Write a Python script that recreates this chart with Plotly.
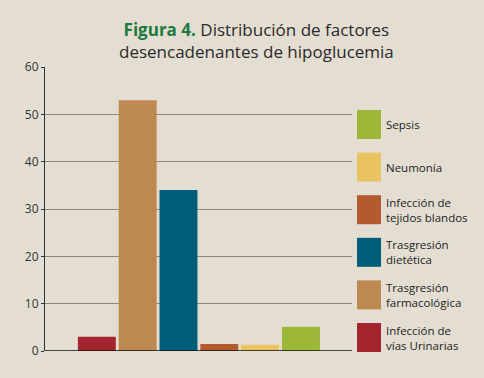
import plotly.graph_objects as go

categories = ["Infección de vías Urinarias", "Trasgresión farmacológica", "Trasgresión dietética",
              "Infección de tejidos blandos", "Neumonía", "Sepsis"]
legend_labels = ["Infección de<br>vías Urinarias", "Trasgresión<br>farmacológica", "Trasgresión<br>dietética",
                 "Infección de<br>tejidos blandos", "Neumonía", "Sepsis"]
values = [3, 53, 34, 1.5, 1.3, 5.1]
colors = ["#A3262F", "#BE8851", "#005E7B", "#B45A2F", "#E9C361", "#9DB739"]
y_ticks = [0, 10, 20, 30, 40, 50, 60]

BG = "#E4DED2"
FONT = "Open Sans"

fig = go.Figure()
for cat, val, col in zip(categories, values, colors):
    fig.add_trace(go.Bar(x=[cat], y=[val], marker=dict(color=col, line=dict(width=0)),
                         name=cat, showlegend=False, width=0.93))

# custom legend (big swatches), ordered top to bottom: Sepsis ... Urinarias
top_y = 110
pitch = 42.6
for i, (lab, col) in enumerate(zip(reversed(legend_labels), reversed(colors))):
    y0 = top_y + i * pitch
    y1 = y0 + 29
    fig.add_shape(type="rect", xref="paper", yref="paper",
                  x0=(357 - 45) / 307, x1=(381 - 45) / 307,
                  y0=(351 - y1) / 284, y1=(351 - y0) / 284,
                  fillcolor=col, line=dict(width=0), layer="above")
    fig.add_annotation(xref="paper", yref="paper", x=(384 - 45) / 307, y=(351 - (y0 + y1) / 2) / 284,
                       text=lab, showarrow=False, xanchor="left", yanchor="middle", align="left",
                       font=dict(family=FONT, size=11.5, color="#222"))

fig.add_annotation(xref="paper", yref="paper", x=(256 - 45) / 307, y=(351 - 40) / 284,
                   text="<b><span style='color:#1D7A3E'>Figura 4.</span></b> Distribución de factores<br>desencadenantes de hipoglucemia",
                   showarrow=False, xanchor="center", yanchor="middle", align="center",
                   font=dict(family=FONT, size=17, color="#2A2A2A"))

fig.update_layout(
    width=484, height=378,
    paper_bgcolor=BG, plot_bgcolor=BG,
    margin=dict(l=45, r=132, t=67, b=27),
    bargap=0.07,
    xaxis=dict(type="category", range=[-1.27, 6.25], showticklabels=False, showgrid=False,
               zeroline=False, showline=False, ticks=""),
    yaxis=dict(range=[0, 60], tickvals=y_ticks, showgrid=True, gridcolor="#8C8782", gridwidth=1,
               zeroline=False, showline=True, linecolor="#333", linewidth=1,
               ticks="outside", ticklen=3, tickcolor="#333",
               tickfont=dict(family=FONT, size=12, color="#333")),
    shapes=list(fig.layout.shapes) + [
        dict(type="line", xref="paper", yref="y", x0=0, x1=1, y0=0, y1=0,
             line=dict(color="#111", width=1.5), layer="above")
    ],
)

fig.write_html("out.html", config={"displayModeBar": False},
               post_script="document.body.style.margin='0';document.body.style.padding='0';"
                           "document.body.style.background='" + BG + "';")
